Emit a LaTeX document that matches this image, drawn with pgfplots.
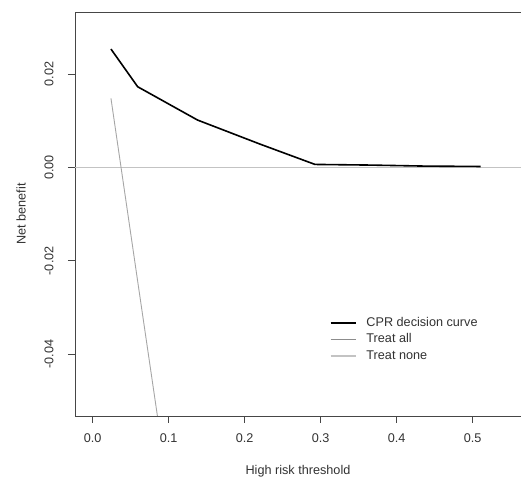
\documentclass[border=0pt]{standalone}
\usepackage{fontspec}
\setmainfont{Liberation Sans}
\usepackage{pgfplots}
\pgfplotsset{compat=1.18}

\definecolor{boxgray}{RGB}{70,70,70}
\definecolor{txtgray}{RGB}{50,50,50}
\definecolor{allgray}{RGB}{140,140,140}
\definecolor{nonegray}{RGB}{195,195,195}
\newcommand{\rfont}{\fontsize{12.7}{15}\selectfont}

\begin{document}
\begin{tikzpicture}
\useasboundingbox (0,0) rectangle (521bp,480bp);
\begin{axis}[
    at={(75bp,64bp)}, anchor=south west,
    scale only axis,
    width=446bp, height=404bp,
    xmin=-0.0233, xmax=0.5636,
    ymin=-0.05323, ymax=0.03328,
    axis x line*=bottom, axis y line*=left,
    axis line style={boxgray, line width=0.9bp},
    tick style={boxgray, line width=0.9bp},
    tick align=outside,
    major tick length=7bp,
    scaled y ticks=false, scaled x ticks=false,
    xtick={0,0.1,0.2,0.3,0.4,0.5},
    xticklabels={0.0,0.1,0.2,0.3,0.4,0.5},
    ytick={-0.04,-0.02,0,0.02},
    yticklabels={-0.04,-0.02,0.00,0.02},
    xticklabel style={font=\rfont, txtgray, yshift=-7bp},
    yticklabel style={font=\rfont, txtgray, xshift=-11bp, rotate=90, anchor=south},
    xlabel={High risk threshold},
    ylabel={Net benefit},
    every axis y label/.style={at={(axis description cs:0,0.5)}, xshift=-54bp, rotate=90, anchor=center, font=\rfont, txtgray},
    every axis x label/.style={at={(axis description cs:0.5,0)}, anchor=center, yshift=-55bp, font=\rfont, txtgray},
    clip=true,
    legend style={draw=none, fill=none, inner sep=0pt, font=\rfont,
        at={(axis description cs:0.571,0.247)}, anchor=north west,
        nodes={inner sep=1bp, text height=9bp, text depth=2.5bp, txtgray},
        row sep=2.8bp},
    legend cell align=left,
    legend image code/.code={\draw[#1] (0bp,0bp) -- (25bp,0bp); \path (34bp,0bp);},
]
% treat none
\addplot[nonegray, line width=0.9bp, forget plot] coordinates {(-0.05,0) (0.6,0)};
% treat all
\addplot[nonegray!85!black, line width=0.9bp, forget plot] coordinates {
    (0.024,0.0148) (0.04,-0.0030) (0.06,-0.0253) (0.09,-0.0586)
};
% CPR decision curve
\addplot[black, line width=1.6bp, forget plot] coordinates {
    (0.024,0.02535) (0.0592,0.01727) (0.138,0.01014) (0.220,0.0050)
    (0.2925,0.00064) (0.365,0.0005) (0.4377,0.00028) (0.5105,0.0002)
};
\draw[boxgray, line width=0.9bp] (rel axis cs:0,1) -- (rel axis cs:1,1);
\addlegendimage{black, line width=1.6bp}
\addlegendentry{CPR decision curve}
\addlegendimage{allgray, line width=1.5bp}
\addlegendentry{Treat all}
\addlegendimage{nonegray, line width=1.5bp}
\addlegendentry{Treat none}
\end{axis}
\end{tikzpicture}
\end{document}
